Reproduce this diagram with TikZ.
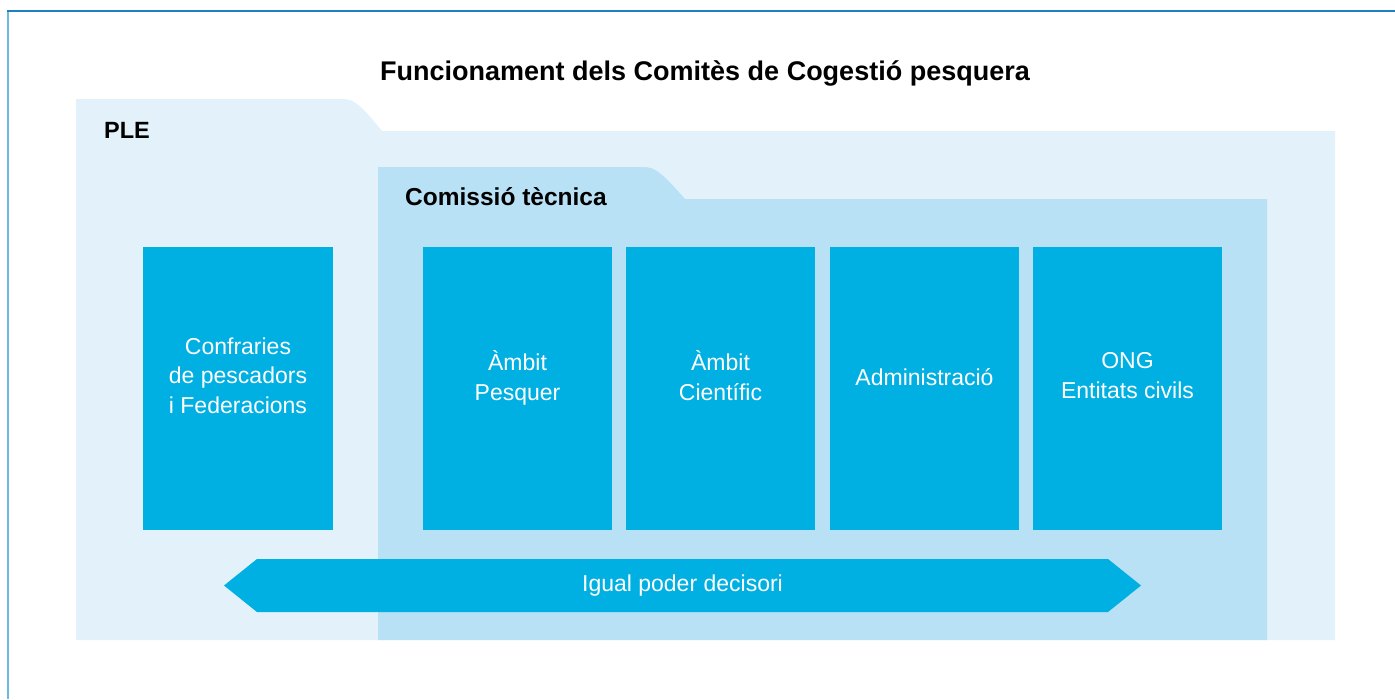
\documentclass[tikz,border=0pt]{standalone}
\usepackage{fontspec}
\setmainfont{Liberation Sans}
\usetikzlibrary{shapes.arrows}
\definecolor{plefons}{HTML}{E3F1FB}
\definecolor{comfons}{HTML}{B9E1F5}
\definecolor{caixablau}{HTML}{00B0E3}
\definecolor{vorafosc}{HTML}{1F80C0}
\definecolor{voraclar}{HTML}{6CB9E2}
\begin{document}
\begin{tikzpicture}[x=1pt,y=-1pt,
caixa/.style ={rectangle, fill=caixablau, minimum width=189.5pt, minimum height=283pt, inner sep=0pt},
etiq/.style ={text=white, align=center, font=\fontsize{23}{29.5}\selectfont, execute at end node=\strut},
titol/.style ={font=\bfseries\fontsize{23.5}{27}\selectfont, anchor=west, inner sep=0pt},
fletxa/.style ={double arrow, double arrow head extend=0pt, double arrow tip angle=77.5, fill=caixablau, minimum height=917pt, minimum width=53pt, inner sep=0pt, text=white, font=\fontsize{23}{27}\selectfont}
]
\useasboundingbox (0,0) rectangle (1395,699);
\draw[voraclar, line width=1.5pt] (8,11)--(8,699);
\draw[vorafosc, line width=1.5pt] (7,11)--(1395,11);
\fill[plefons] (76,640)--(76,99)--(342,99) .. controls (354,99) and (360,104) .. (382,131)--(1335,131)--(1335,640)--cycle;
\fill[comfons] (378,640)--(378,167)--(643,167) .. controls (655,167) and (661,172) .. (685,199)--(1267,199)--(1267,640)--cycle;
\draw (705,73) node[titol, anchor=center, font=\bfseries\fontsize{27}{30}\selectfont] (T) {Funcionament dels Comitès de Cogestió pesquera};
\draw (104,130) node[titol] (PLE) {PLE};
\draw (405,197) node[titol, font=\bfseries\fontsize{24.5}{27}\selectfont] (CT) {Comissió tècnica};
\draw (238,388.5) node[caixa, minimum width=190pt] (C1) {};
\draw (517.5,388.5) node[caixa] (C2) {};
\draw (720.5,388.5) node[caixa] (C3) {};
\draw (924.5,388.5) node[caixa] (C4) {};
\draw (1127.5,388.5) node[caixa] (C5) {};
\draw ([yshift=8.5pt]C1.center) node[etiq] (E1) {Confraries\\de pescadors\\i Federacions};
\draw ([yshift=8.5pt]C2.center) node[etiq] (E2) {Àmbit\\Pesquer};
\draw ([yshift=8.5pt]C3.center) node[etiq] (E3) {Àmbit\\Científic};
\draw ([yshift=8.5pt]C4.center) node[etiq] (E4) {Administració};
\draw ([yshift=8.5pt]C5.center) node[etiq] (E5) {ONG\\Entitats civils};
\draw (682.5,585.5) node[fletxa] (F) {Igual poder decisori};
\end{tikzpicture}
\end{document}
